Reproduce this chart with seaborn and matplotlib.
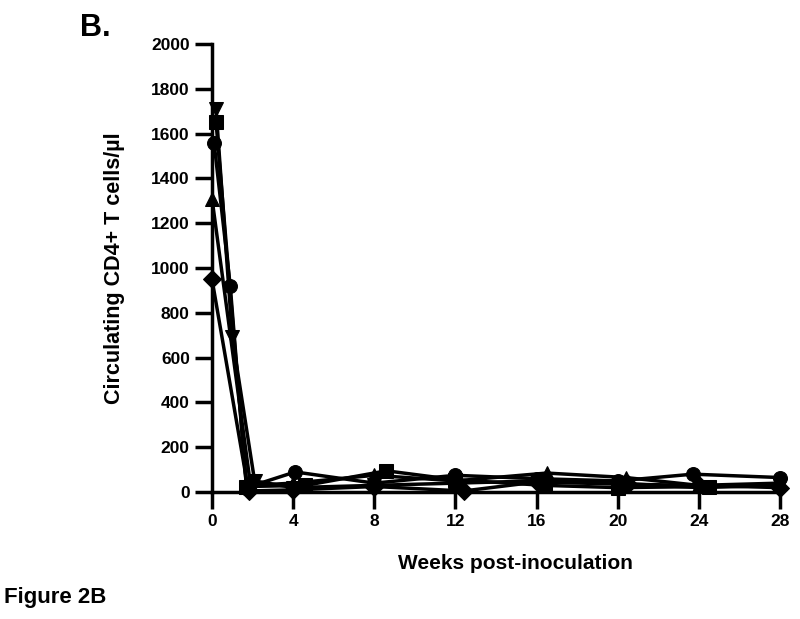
import pandas as pd
import matplotlib.pyplot as plt
import seaborn as sns

sns.set_style("ticks")
plt.rcParams['font.family'] = ['Liberation Sans', 'DejaVu Sans']
plt.rcParams['font.weight'] = 'bold'
plt.rcParams['text.color'] = 'black'
plt.rcParams['axes.labelcolor'] = 'black'
plt.rcParams['xtick.color'] = 'black'
plt.rcParams['ytick.color'] = 'black'
plt.rcParams['axes.edgecolor'] = 'black'

# Data (weeks post-inoculation, CD4+ T cells/ul)
circle_weeks = [0.1, 0.9, 1.7, 4.1, 8.0, 12.0, 16.0, 20.0, 23.7, 28.0]
circle_cd4 = [1560, 920, 20, 90, 40, 75, 60, 50, 80, 65]

square_weeks = [0.2, 1.7, 4.6, 8.6, 12.0, 16.4, 20.0, 24.5]
square_cd4 = [1650, 25, 30, 95, 55, 30, 20, 25]

tri_up_weeks = [0.0, 1.9, 4.0, 8.0, 12.0, 16.5, 20.4, 24.0, 28.0]
tri_up_cd4 = [1310, 30, 40, 75, 50, 85, 65, 30, 40]

tri_down_weeks = [0.2, 1.0, 2.1, 4.0, 8.0, 12.0, 16.0, 20.0, 24.0, 28.0]
tri_down_cd4 = [1710, 690, 50, 20, 30, 40, 50, 40, 20, 30]

diamond_weeks = [0.0, 1.8, 4.0, 8.0, 12.4, 16.0, 20.5, 24.0, 28.0]
diamond_cd4 = [950, 5, 10, 25, 5, 45, 35, 30, 20]

series = [
    (circle_weeks, circle_cd4, 'o'),
    (square_weeks, square_cd4, 's'),
    (tri_up_weeks, tri_up_cd4, '^'),
    (tri_down_weeks, tri_down_cd4, 'v'),
    (diamond_weeks, diamond_cd4, 'D'),
]

x_ticks = [0, 4, 8, 12, 16, 20, 24, 28]
y_ticks = list(range(0, 2001, 200))

fig = plt.figure(figsize=(8, 6.19), dpi=100)
ax = fig.add_axes([0.265, 0.205, 0.71, 0.724])

for weeks, cd4, mk in series:
    df = pd.DataFrame({'week': weeks, 'cd4': cd4})
    sns.lineplot(data=df, x='week', y='cd4', ax=ax, sort=False, color='black',
                 linewidth=2.5, marker=mk, markersize=10 if mk != 'D' else 9,
                 markeredgecolor='black', clip_on=False, zorder=3)

ax.set_xlim(0, 28)
ax.set_ylim(0, 2000)
ax.set_xticks(x_ticks)
ax.set_yticks(y_ticks)
ax.tick_params(axis='both', width=2.5, length=12, color='black',
               labelsize=12.5, pad=4, labelcolor='black')
for lab in ax.get_xticklabels() + ax.get_yticklabels():
    lab.set_fontweight('bold')
for side in ['top', 'right']:
    ax.spines[side].set_visible(False)
for side in ['left', 'bottom']:
    ax.spines[side].set_linewidth(2.5)
    ax.spines[side].set_color('black')

ax.set_xlabel('Weeks post-inoculation', fontsize=15, fontweight='bold')
ax.xaxis.set_label_coords(0.535, -0.138)
ax.set_ylabel('Circulating CD4+ T cells/µl', fontsize=15.5, fontweight='bold', labelpad=19)

fig.text(0.1, 0.955, 'B.', fontsize=22, fontweight='bold', ha='left', va='center')
fig.text(0.005, 0.035, 'Figure 2B', fontsize=16, fontweight='bold', ha='left', va='center')

fig.savefig('out.png', dpi=100)
